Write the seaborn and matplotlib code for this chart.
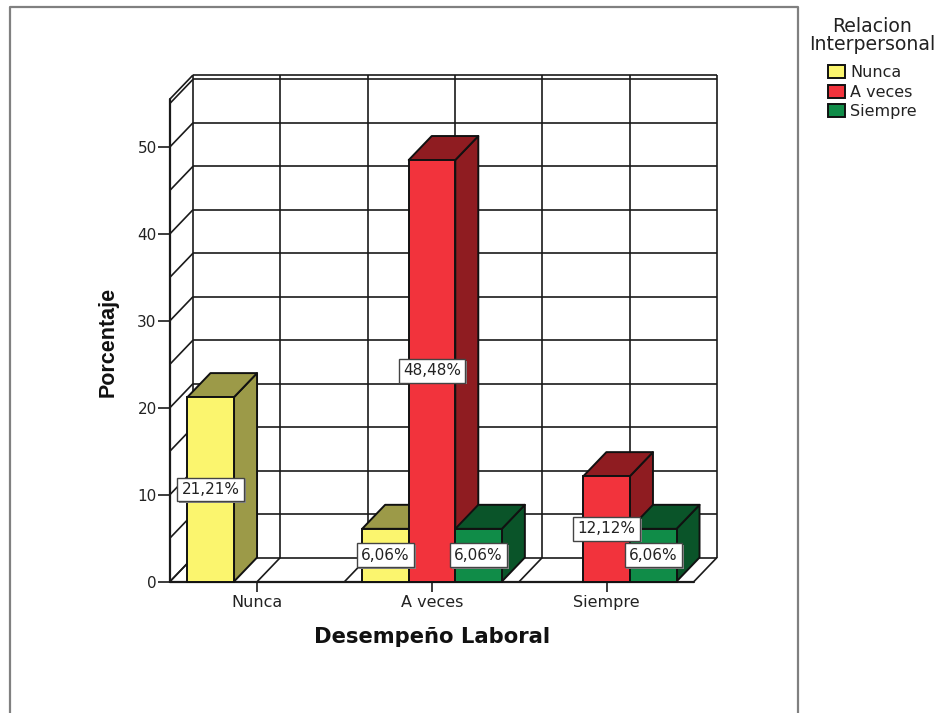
import matplotlib
matplotlib.use("Agg")
import matplotlib.pyplot as plt
import matplotlib.patheffects as pe
from matplotlib.lines import Line2D
from matplotlib.patches import Polygon
import numpy as np
import pandas as pd
import seaborn as sns

# valores
desempeno = ["Nunca", "A veces", "A veces", "A veces", "Siempre", "Siempre"]
relacion = ["Nunca", "Nunca", "A veces", "Siempre", "A veces", "Siempre"]
porcentaje = [21.21, 6.06, 48.48, 6.06, 12.12, 6.06]
categorias = ["Nunca", "A veces", "Siempre"]
colores = {"Nunca": "#FBF56E", "A veces": "#F2333C", "Siempre": "#108C48"}
colores_lado = {"Nunca": "#9C9A48", "A veces": "#8F1C21", "Siempre": "#0A5429"}

W, H = 940, 713
sns.set_style("white")
plt.rcParams["font.family"] = ["DejaVu Sans"]

df = pd.DataFrame({"desempeno": desempeno, "relacion": relacion, "porcentaje": porcentaje})

fig = plt.figure(figsize=(W / 100, H / 100), dpi=100)
ax = fig.add_axes([170 / W, 1 - 581.5 / H, 524 / W, 482.5 / H])
ax.patch.set_alpha(0)

sns.barplot(data=df, x="desempeno", y="porcentaje", hue="relacion", order=categorias,
            hue_order=categorias, palette=colores, saturation=1, width=0.8,
            edgecolor="#111111", linewidth=1.4, ax=ax)

ax.set_xlim(-0.5, 2.5)
ax.set_ylim(0, 55.5)
ymax = 55.5

# profundidad del efecto 3D en unidades de datos
dx = 23 / (524 / 3)
dy = 24 / (482.5 / ymax)

linea = dict(color="#1a1a1a", lw=1.2, clip_on=False, zorder=1, solid_capstyle="butt")

# pared del fondo, pared izquierda y suelo
for y in np.arange(0, 56, 5):
    ax.plot([-0.5 + dx, 2.5 + dx], [y + dy, y + dy], **linea)
    ax.plot([-0.5, -0.5 + dx], [y, y + dy], **linea)
ax.plot([-0.5 + dx, 2.5 + dx], [ymax + dy, ymax + dy], **linea)
ax.plot([-0.5, -0.5 + dx], [ymax, ymax + dy], **linea)
for x in np.arange(-0.5, 2.51, 0.5):
    ax.plot([x + dx, x + dx], [dy, ymax + dy], **linea)
    ax.plot([x, x + dx], [0, dy], **linea)
ax.plot([-0.5, 2.5], [0, 0], color="#1a1a1a", lw=1.6, clip_on=False, zorder=1.5)
ax.plot([-0.5, -0.5], [0, ymax], color="#1a1a1a", lw=1.6, clip_on=False, zorder=1.5)

# caras laterales y superiores de cada barra, de izquierda a derecha
barras = []
for cont, nivel in zip(ax.containers, categorias):
    for b in cont:
        if b.get_height() > 0:
            barras.append((b, nivel))
barras.sort(key=lambda t: t[0].get_x())

etiquetas = []
for i, (b, nivel) in enumerate(barras):
    x0 = b.get_x()
    x1 = x0 + b.get_width()
    h = b.get_height()
    z = 3 + i
    lado = colores_lado[nivel]
    ax.add_patch(Polygon([(x1, 0), (x1 + dx, dy), (x1 + dx, h + dy), (x1, h)], fc=lado,
                         ec="#111111", lw=1.4, clip_on=False, zorder=z, joinstyle="round"))
    ax.add_patch(Polygon([(x0, h), (x0 + dx, h + dy), (x1 + dx, h + dy), (x1, h)], fc=lado,
                         ec="#111111", lw=1.4, clip_on=False, zorder=z, joinstyle="round"))
    b.set_zorder(z + 0.5)
    b.set_clip_on(False)
    etiquetas.append(((x0 + x1) / 2, h / 2, f"{h:.2f}%".replace(".", ",")))

for x, y, txt in etiquetas:
    t = ax.text(x, y, txt, ha="center", va="center", fontsize=11, color="#222222", zorder=20,
                bbox=dict(boxstyle="square,pad=0.28", fc="white", ec="#444444", lw=1))
    t.get_bbox_patch().set_path_effects([pe.SimplePatchShadow(offset=(1.2, -1.2), shadow_rgbFace="#888888", alpha=1), pe.Normal()])

sns.despine(ax=ax, left=True, bottom=True)
ax.set_yticks(np.arange(0, 51, 10))
ax.tick_params(axis="y", left=True, length=8.6, width=1.2, color="#1a1a1a", labelsize=11,
               labelcolor="#222222", pad=1)
ax.tick_params(axis="x", bottom=True, length=7.5, width=1.2, color="#1a1a1a", labelsize=11.5,
               labelcolor="#222222", pad=2.5)

ax.set_xlabel("Desempeño Laboral", fontsize=15.2, fontweight="bold", color="#111111")
ax.xaxis.set_label_coords((432 - 170) / 524, -(637 - 581.5) / 482.5)
ax.xaxis.label.set_va("center")
ax.set_ylabel("Porcentaje", fontsize=15.5, fontweight="bold", family="Liberation Sans", color="#111111")
ax.yaxis.set_label_coords((108 - 170) / 524, (581.5 - 342) / 482.5)
ax.yaxis.label.set_va("center")

sns.move_legend(ax, "upper left", bbox_to_anchor=(809 / W, 1 - 17 / H), bbox_transform=fig.transFigure,
                title="Relacion\nInterpersonal", frameon=False, fontsize=11.5, title_fontsize=13.6,
                handlelength=1.1, handleheight=0.85, handletextpad=0.3, labelspacing=0.28,
                borderpad=0, borderaxespad=0)
leg = ax.get_legend()
for t in leg.get_texts():
    t.set_color("#222222")
leg.get_title().set_color("#222222")
leg.get_title().set_multialignment("center")
leg.get_title().set_linespacing(0.95)
leg._legend_box.sep = 8
leg.set_zorder(30)

# marco gris del grafico (abierto por abajo)
fig.add_artist(Line2D([10 / W, 10 / W, 798 / W, 798 / W], [0, 1 - 7 / H, 1 - 7 / H, 0],
                      color="#808080", lw=1.6, transform=fig.transFigure))

fig.savefig("out.png", dpi=100)
plt.close(fig)
